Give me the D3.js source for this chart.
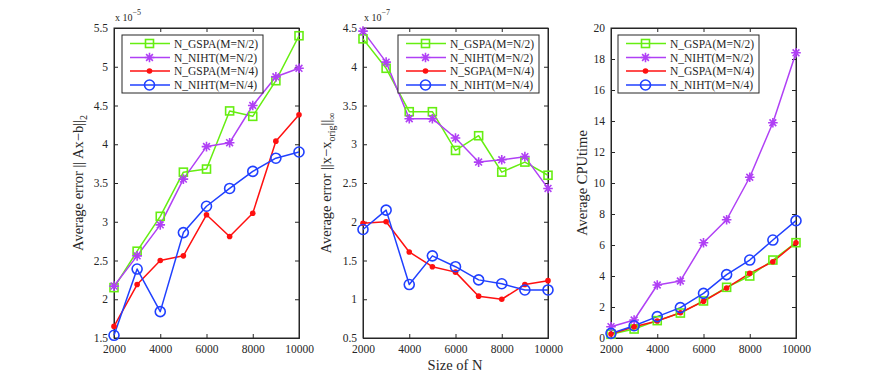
<!DOCTYPE html>
<html><head><meta charset="utf-8">
<script src="https://cdn.jsdelivr.net/npm/d3@7"></script>
<style>
html,body{margin:0;padding:0;background:#fff;}
svg text{font-family:"Liberation Serif","Times New Roman",serif;fill:#262626;}
</style></head>
<body><svg id="c" width="883" height="381"></svg>
<script>
const sizes = [2000,3000,4000,5000,6000,7000,8000,9000,10000];
const xTicks = [2000,4000,6000,8000,10000];

// Panel 1: Average error ||Ax-b||_2 (x 1e-5)
const p1_gspa2 = [2.15,2.62,3.07,3.64,3.68,4.43,4.36,4.82,5.40];
const p1_niht2 = [2.17,2.56,2.96,3.55,3.97,4.02,4.50,4.87,4.98];
const p1_gspa4 = [1.65,2.19,2.50,2.56,3.09,2.81,3.11,4.04,4.38];
const p1_niht4 = [1.535,2.39,1.84,2.86,3.20,3.43,3.65,3.82,3.90];
const p1_yTicks = [1.5,2,2.5,3,3.5,4,4.5,5,5.5];

// Panel 2: Average error ||x-x_orig||_inf (x 1e-7)
const p2_gspa2 = [4.36,3.98,3.42,3.42,2.92,3.11,2.64,2.77,2.60];
const p2_niht2 = [4.46,4.06,3.33,3.33,3.08,2.77,2.80,2.84,2.43];
const p2_sgpa4 = [1.98,2.00,1.61,1.42,1.35,1.04,1.00,1.19,1.24];
const p2_niht4 = [1.90,2.15,1.19,1.56,1.42,1.25,1.20,1.12,1.12];
const p2_yTicks = [0.5,1,1.5,2,2.5,3,3.5,4,4.5];

// Panel 3: Average CPU time
const p3_gspa2 = [0.24,0.58,1.12,1.61,2.39,3.27,4.00,5.03,6.15];
const p3_niht2 = [0.73,1.16,3.42,3.68,6.15,7.63,10.37,13.89,18.40];
const p3_gspa4 = [0.26,0.73,1.10,1.63,2.37,3.23,4.17,4.92,6.15];
const p3_niht4 = [0.30,0.79,1.38,1.96,2.88,4.09,5.03,6.32,7.57];
const p3_yTicks = [0,2,4,6,8,10,12,14,16,18,20];

const names1 = ["N_GSPA(M=N/2)","N_NIHT(M=N/2)","N_GSPA(M=N/4)","N_NIHT(M=N/4)"];
const names2 = ["N_GSPA(M=N/2)","N_NIHT(M=N/2)","N_SGPA(M=N/4)","N_NIHT(M=N/4)"];

const colors = ["#66ee11","#b040f5","#ff1010","#2040ff"];
const markers = ["square","star","dot","circle"];

const svg = d3.select("#c");
const TOP = 28, H = 310, W = 185;

function drawMarker(g, type, color, x, y){
  if(type==="square"){
    g.append("rect").attr("x",x-4).attr("y",y-4).attr("width",8).attr("height",8)
      .attr("fill","none").attr("stroke",color).attr("stroke-width",1.6);
  } else if(type==="circle"){
    g.append("circle").attr("cx",x).attr("cy",y).attr("r",5)
      .attr("fill","none").attr("stroke",color).attr("stroke-width",1.6);
  } else if(type==="dot"){
    g.append("circle").attr("cx",x).attr("cy",y).attr("r",2.8).attr("fill",color);
  } else if(type==="star"){
    const r=4.8, d=r*0.7071;
    const p = `M${x-r},${y}L${x+r},${y}M${x},${y-r}L${x},${y+r}M${x-d},${y-d}L${x+d},${y+d}M${x-d},${y+d}L${x+d},${y-d}`;
    g.append("path").attr("d",p).attr("stroke",color).attr("stroke-width",1.6).attr("fill","none");
  }
}

function panel(opt){
  const g = svg.append("g");
  const x = d3.scaleLinear().domain([2000,10000]).range([opt.left, opt.left+W]);
  const y = d3.scaleLinear().domain(opt.yDomain).range([TOP+H, TOP]);

  g.append("rect").attr("x",opt.left).attr("y",TOP).attr("width",W).attr("height",H)
    .attr("fill","none").attr("stroke","#262626").attr("stroke-width",1);

  const xa = d3.axisBottom(x).tickValues(xTicks).tickSize(-4).tickPadding(7).tickFormat(d3.format("d"));
  const gx = g.append("g").attr("transform",`translate(0,${TOP+H})`).call(xa);
  const xt = d3.axisTop(x).tickValues(xTicks).tickSize(-4).tickFormat("");
  const gxt = g.append("g").attr("transform",`translate(0,${TOP})`).call(xt);
  const ya = d3.axisLeft(y).tickValues(opt.yTicks).tickSize(-4).tickPadding(6).tickFormat(d=>String(d));
  const gy = g.append("g").attr("transform",`translate(${opt.left},0)`).call(ya);
  const yr = d3.axisRight(y).tickValues(opt.yTicks).tickSize(-4).tickFormat("");
  const gyr = g.append("g").attr("transform",`translate(${opt.left+W},0)`).call(yr);
  [gx,gxt,gy,gyr].forEach(a=>{
    a.select(".domain").attr("stroke","#262626");
    a.selectAll(".tick line").attr("stroke","#262626");
    a.selectAll("text").style("font-size","11.5px").attr("fill","#262626")
      .style("font-family","'Liberation Serif',serif");
  });
  gx.selectAll("text").attr("dy","0.71em");

  const line = d3.line().x((d,i)=>x(sizes[i])).y(d=>y(d));
  opt.series.forEach((s,k)=>{
    g.append("path").datum(s).attr("d",line).attr("fill","none")
      .attr("stroke",colors[k]).attr("stroke-width",1.5).attr("stroke-linejoin","round");
  });
  opt.series.forEach((s,k)=>{
    s.forEach((v,i)=>drawMarker(g, markers[k], colors[k], x(sizes[i]), y(v)));
  });

  const lx = opt.legendX, ly = 35;
  g.append("rect").attr("x",lx).attr("y",ly).attr("width",141).attr("height",58)
    .attr("fill","#fff").attr("stroke","#262626").attr("stroke-width",1);
  const rows = [8.5,22.5,36,50];
  opt.names.forEach((n,k)=>{
    const yy = ly + rows[k];
    g.append("line").attr("x1",lx+8).attr("x2",lx+48).attr("y1",yy).attr("y2",yy)
      .attr("stroke",colors[k]).attr("stroke-width",1.5);
    drawMarker(g, markers[k], colors[k], lx+27.5, yy);
    g.append("text").attr("x",lx+52).attr("y",yy).attr("dy","0.35em")
      .style("font-size","11.5px").text(n);
  });

  if(opt.exp){
    const t = g.append("text").attr("x",opt.left+1).attr("y",21).style("font-size","10px");
    t.append("tspan").text("x 10");
    t.append("tspan").attr("dy","-6").style("font-size","8px").text(opt.exp);
  }

  const yl = g.append("text").attr("transform",`translate(${opt.ylabelX},${TOP+H/2}) rotate(-90)`)
    .attr("text-anchor","middle").style("font-size","14.5px");
  opt.ylabel(yl);
  return {x,y};
}

panel({left:114, yDomain:[1.5,5.5], yTicks:p1_yTicks, series:[p1_gspa2,p1_niht2,p1_gspa4,p1_niht4],
  names:names1, legendX:122, exp:"−5", ylabelX:83,
  ylabel:t=>{ t.append("tspan").text("Average error || Ax−b||");
              t.append("tspan").attr("dy","4").style("font-size","10px").text("2"); }});

panel({left:363, yDomain:[0.5,4.5], yTicks:p2_yTicks, series:[p2_gspa2,p2_niht2,p2_sgpa4,p2_niht4],
  names:names2, legendX:398, exp:"−7", ylabelX:331,
  ylabel:t=>{ t.append("tspan").text("Average error ||x−x");
              t.append("tspan").attr("dy","4").style("font-size","10px").text("orig");
              t.append("tspan").attr("dy","-4").text("||");
              t.append("tspan").attr("dy","4").style("font-size","10px").text("∞"); }});

panel({left:611, yDomain:[0,20], yTicks:p3_yTicks, series:[p3_gspa2,p3_niht2,p3_gspa4,p3_niht4],
  names:names1, legendX:618, exp:null, ylabelX:587,
  ylabel:t=>{ t.text("Average CPUtime"); }});

svg.append("text").attr("x",455).attr("y",370).attr("text-anchor","middle")
  .style("font-size","14.5px").text("Size of N");
</script></body></html>
